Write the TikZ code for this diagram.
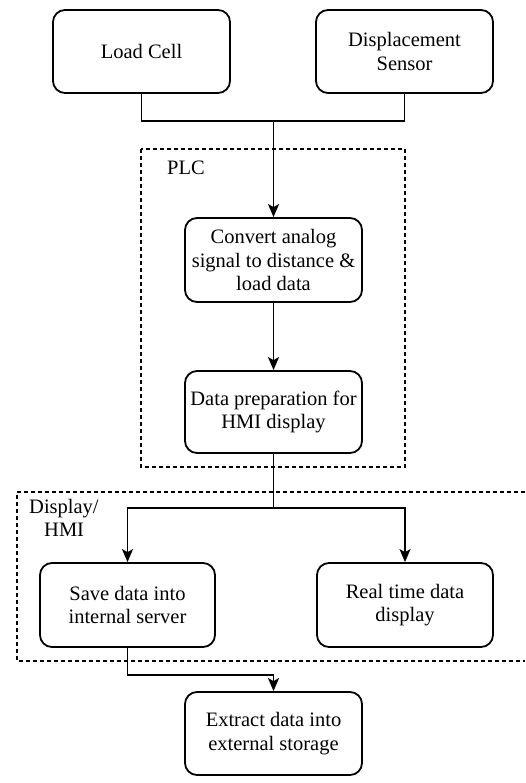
\documentclass[tikz,border=0pt]{standalone}
\usepackage{fontspec}
\setmainfont{Liberation Serif}
\newfontfamily\diagfont{Liberation Serif}
\usetikzlibrary{arrows.meta}

\tikzset{
  block/.style={draw, line width=1.8pt, rounded corners=12pt, minimum width=177pt,
    minimum height=83pt, align=center, inner sep=2pt},
  txt/.style={font=\diagfont\fontsize{20.5}{23.3}\selectfont},
  wireline/.style={line width=1.8pt},
  arrowline/.style={line width=1.8pt, -{Stealth[length=13pt,width=11pt,inset=3pt]}},
  groupframe/.style={line width=1.5pt, dash pattern=on 4pt off 3pt},
  grouplabel/.style={align=left, inner sep=0pt}
}

\begin{document}
\begin{tikzpicture}[x=1pt, y=-1pt, every node/.style={txt}]
  \useasboundingbox (0,0) rectangle (525,783);

  % sensors
  \node[block] (lc) at (141.5,51.5) {Load Cell};
  \node[block] (ds) at (404.5,51.5) {Displacement\\Sensor};

  % PLC stage
  \node[block, minimum height=84pt] (conv) at (273.5,260) {Convert analog\\signal to distance \&\\load data};
  \node[block, minimum height=82pt] (prep) at (273.5,412) {Data preparation for\\HMI display};

  % HMI stage
  \node[block, minimum width=175pt, minimum height=84pt] (save) at (127.5,605) {Save data into\\internal server};
  \node[block, minimum width=176pt, minimum height=84pt] (rt) at (405,605) {Real time data\\display};

  % storage
  \node[block] (ext) at (273.5,733.5) {Extract data into\\external storage};

  % group frames
  \draw[groupframe] (141,149) rectangle (405,467);
  \node[grouplabel, anchor=west] (plc) at (167,168) {PLC};
  \draw[groupframe] (525,492) -- (17,492) -- (17,661) -- (525,661);
  \node[grouplabel, anchor=north west] (hmi) at (29,499) {Display/\\\hspace*{15pt}HMI};

  % junctions
  \coordinate (j1) at (273.5,121);
  \coordinate (j2) at (273.5,508);
  \coordinate (j3) at (127.5,675);

  % connectors
  \draw[wireline] (lc.south) |- (j1) -| (ds.south);
  \draw[arrowline] (j1) -- (conv.north);
  \draw[arrowline] (conv.south) -- (prep.north);
  \draw[wireline] (prep.south) -- (j2);
  \draw[arrowline] (j2) -| (save.north);
  \draw[arrowline] (j2) -| (rt.north);
  \draw[arrowline] (save.south) -- (j3) -| (ext.north);
\end{tikzpicture}
\end{document}
